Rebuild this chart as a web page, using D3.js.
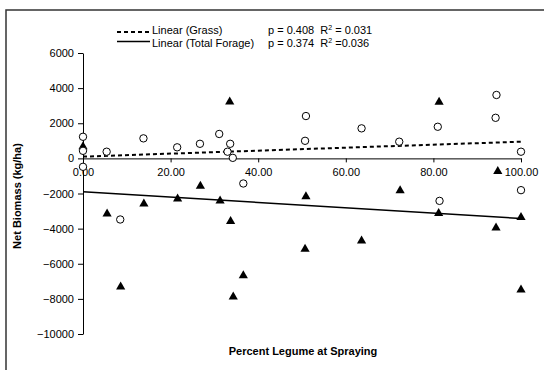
<!DOCTYPE html>
<html>
<head>
<meta charset="utf-8">
<script src="https://cdn.jsdelivr.net/npm/d3@7"></script>
<style>
  body { margin: 0; background: #fff; }
  text { font-family: "Liberation Sans", Arial, sans-serif; white-space: pre; }
</style>
</head>
<body>
<svg width="544" height="370"></svg>
<script>
// grass (open circles): % legume, net biomass
var grassX = [0, 0, 0, 5.4, 8.5, 13.8, 21.5, 26.7, 31.1, 33.6, 33.0, 34.2, 36.6, 50.7, 50.9, 63.6, 72.2, 81.0, 81.4, 94.4, 94.2, 100, 100];
var grassY = [1230, 430, -480, 380, -3480, 1140, 630, 830, 1390, 830, 380, 30, -1430, 1000, 2410, 1710, 950, 1800, -2420, 3610, 2310, 380, -1810];

// total forage (filled triangles)
var forageX = [0, 5.5, 8.6, 13.9, 21.6, 26.8, 31.3, 33.5, 33.7, 34.3, 36.6, 50.9, 50.7, 63.6, 72.4, 81.3, 81.2, 94.3, 94.7, 100, 100];
var forageY = [700, -3130, -7280, -2560, -2280, -1550, -2390, 3250, -3560, -7850, -6650, -2150, -5130, -4660, -1810, 3230, -3100, -3930, -710, -3330, -7460];

// fitted lines (value at 0 and 100)
var trendX = [0, 100];
var grassTrend = [100, 950];
var forageTrend = [-1900, -3420];

var xTicks = [0, 20, 40, 60, 80, 100];
var yTicks = [6000, 4000, 2000, 0, -2000, -4000, -6000, -8000, -10000];

var svg = d3.select("svg");

var x = d3.scaleLinear().domain([0, 100]).range([83, 521]);
var y = d3.scaleLinear().domain([-10000, 6000]).range([334, 53]);

// outer frame (right/bottom run off the picture)
svg.append("rect")
    .attr("x", 6).attr("y", 10)
    .attr("width", 600).attr("height", 400)
    .attr("fill", "none")
    .attr("stroke", "#333")
    .attr("stroke-width", 1.5);

var yAxis = svg.append("g")
    .attr("transform", "translate(" + x(0) + ",0)")
    .call(d3.axisLeft(y).tickValues(yTicks).tickSize(5).tickPadding(4).tickSizeOuter(0).tickFormat(d3.format("d")));

var xAxis = svg.append("g")
    .attr("transform", "translate(0," + y(0) + ")")
    .call(d3.axisBottom(x).tickValues(xTicks).tickSize(4).tickPadding(6).tickSizeOuter(0).tickFormat(d3.format(".2f")));

[yAxis, xAxis].forEach(function (g) {
    g.selectAll("path, line").attr("stroke", "#000").attr("stroke-width", 1);
    g.selectAll("text")
        .attr("fill", "#000")
        .style("font-size", "11px")
        .style("font-family", "'Liberation Sans', Arial, sans-serif");
});

// trend lines
var line = d3.line()
    .x(function (d) { return x(d[0]); })
    .y(function (d) { return y(d[1]); });

svg.append("path")
    .datum(d3.zip(trendX, grassTrend))
    .attr("d", line)
    .attr("fill", "none")
    .attr("stroke", "#000")
    .attr("stroke-width", 2)
    .attr("stroke-dasharray", "4,3");

svg.append("path")
    .datum(d3.zip(trendX, forageTrend))
    .attr("d", line)
    .attr("fill", "none")
    .attr("stroke", "#000")
    .attr("stroke-width", 1.5);

// points
var tri = "M0,-4.8L4.6,3.2L-4.6,3.2Z";

svg.selectAll(".tri")
    .data(d3.zip(forageX, forageY))
    .enter().append("path")
    .attr("class", "tri")
    .attr("d", tri)
    .attr("transform", function (d) { return "translate(" + x(d[0]) + "," + y(d[1]) + ")"; })
    .attr("fill", "#000");

svg.selectAll(".dot")
    .data(d3.zip(grassX, grassY))
    .enter().append("circle")
    .attr("class", "dot")
    .attr("cx", function (d) { return x(d[0]); })
    .attr("cy", function (d) { return y(d[1]); })
    .attr("r", 3.7)
    .attr("fill", "#fff")
    .attr("stroke", "#000")
    .attr("stroke-width", 1);

// axis titles
svg.append("text")
    .attr("transform", "translate(21,196) rotate(-90)")
    .attr("text-anchor", "middle")
    .style("font-size", "11px")
    .style("font-weight", "bold")
    .text("Net Biomass (kg/ha)");

svg.append("text")
    .attr("x", 303).attr("y", 355)
    .attr("text-anchor", "middle")
    .style("font-size", "11px")
    .style("font-weight", "bold")
    .text("Percent Legume at Spraying");

// legend
var legend = [
    { label: "Linear (Grass)", dash: "4,3", w: 2, ly: 32, ty: 33.5, p: "p = 0.408  R", r: " = 0.031" },
    { label: "Linear (Total Forage)", dash: null, w: 1.5, ly: 41.5, ty: 47, p: "p = 0.374  R", r: " =0.036" }
];

legend.forEach(function (d) {
    svg.append("line")
        .attr("x1", 117).attr("x2", 150)
        .attr("y1", d.ly).attr("y2", d.ly)
        .attr("stroke", "#000")
        .attr("stroke-width", d.w)
        .attr("stroke-dasharray", d.dash);

    svg.append("text")
        .attr("x", 152).attr("y", d.ty)
        .style("font-size", "11px")
        .text(d.label);

    var t = svg.append("text")
        .attr("x", 268).attr("y", d.ty)
        .style("font-size", "11px");
    t.append("tspan").text(d.p);
    t.append("tspan").attr("dy", -4).style("font-size", "7px").text("2");
    t.append("tspan").attr("dy", 4).text(d.r);
});
</script>
</body>
</html>
